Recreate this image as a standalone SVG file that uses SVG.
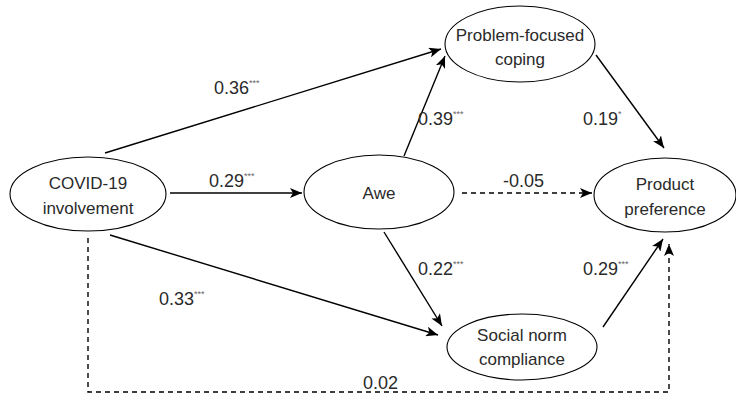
<svg xmlns="http://www.w3.org/2000/svg" width="736" height="400" viewBox="0 0 736 400">
<style>
.node{fill:#fff;stroke:#000;stroke-width:1.1}
.nt{font-family:"Liberation Sans",Arial,sans-serif;font-size:17px;fill:#2a2a2a;text-anchor:middle}
.lab{font-family:"Liberation Sans",Arial,sans-serif;font-size:18px;fill:#2a2a2a}
.sup{font-size:9px;fill:#666}
.edge{fill:none;stroke:#000;stroke-width:1.4}
.dash{stroke-dasharray:5,4}
</style>
<defs>
<marker id="ah" viewBox="0 0 12 10" refX="12" refY="5" markerWidth="12" markerHeight="10" markerUnits="userSpaceOnUse" orient="auto">
<path d="M0,0 L12,5 L0,10 L3,5 z" fill="#000"/>
</marker>
</defs>
<g id="connectors">
<path class="edge" d="M105,153 L441,49" marker-end="url(#ah)"/>
<path class="edge" d="M170,193 L302,193" marker-end="url(#ah)"/>
<path class="edge" d="M110,235 L438,335" marker-end="url(#ah)"/>
<path class="edge" d="M404,156 L445,56" marker-end="url(#ah)"/>
<path class="edge dash" d="M462,193 L592,193" marker-end="url(#ah)"/>
<path class="edge" d="M384,232 L442,326" marker-end="url(#ah)"/>
<path class="edge" d="M596,55 L664,148" marker-end="url(#ah)"/>
<path class="edge" d="M603,327 L663,239" marker-end="url(#ah)"/>
<path class="edge dash" d="M88,238 L88,392 L669,392 L669,244" marker-end="url(#ah)"/>
</g>
<g id="labels">
<text class="lab" x="214" y="94">0.36<tspan class="sup" dy="-8">***</tspan></text>
<text class="lab" x="209" y="187">0.29<tspan class="sup" dy="-8">***</tspan></text>
<text class="lab" x="159" y="305">0.33<tspan class="sup" dy="-8">***</tspan></text>
<text class="lab" x="418" y="125">0.39<tspan class="sup" dy="-8">***</tspan></text>
<text class="lab" x="583" y="125">0.19<tspan class="sup" dy="-8">*</tspan></text>
<text class="lab" x="503" y="187">-0.05</text>
<text class="lab" x="418" y="275">0.22<tspan class="sup" dy="-8">***</tspan></text>
<text class="lab" x="583" y="275">0.29<tspan class="sup" dy="-8">***</tspan></text>
<text class="lab" x="363" y="389">0.02</text>
</g>
<g id="covid">
<ellipse class="node" cx="88" cy="194" rx="78" ry="37"/>
<text class="nt" x="88" y="189">COVID-19</text>
<text class="nt" x="88" y="214">involvement</text>
</g>
<g id="problem">
<ellipse class="node" cx="520" cy="44" rx="75" ry="38"/>
<text class="nt" x="520" y="41">Problem-focused</text>
<text class="nt" x="520" y="65">coping</text>
</g>
<g id="awe">
<ellipse class="node" cx="379" cy="192" rx="75" ry="37"/>
<text class="nt" x="379" y="199">Awe</text>
</g>
<g id="product">
<ellipse class="node" cx="665" cy="195" rx="71" ry="37"/>
<text class="nt" x="665" y="190">Product</text>
<text class="nt" x="665" y="215">preference</text>
</g>
<g id="social">
<ellipse class="node" cx="522" cy="347" rx="75" ry="33"/>
<text class="nt" x="522" y="341">Social norm</text>
<text class="nt" x="522" y="365">compliance</text>
</g>
</svg>
